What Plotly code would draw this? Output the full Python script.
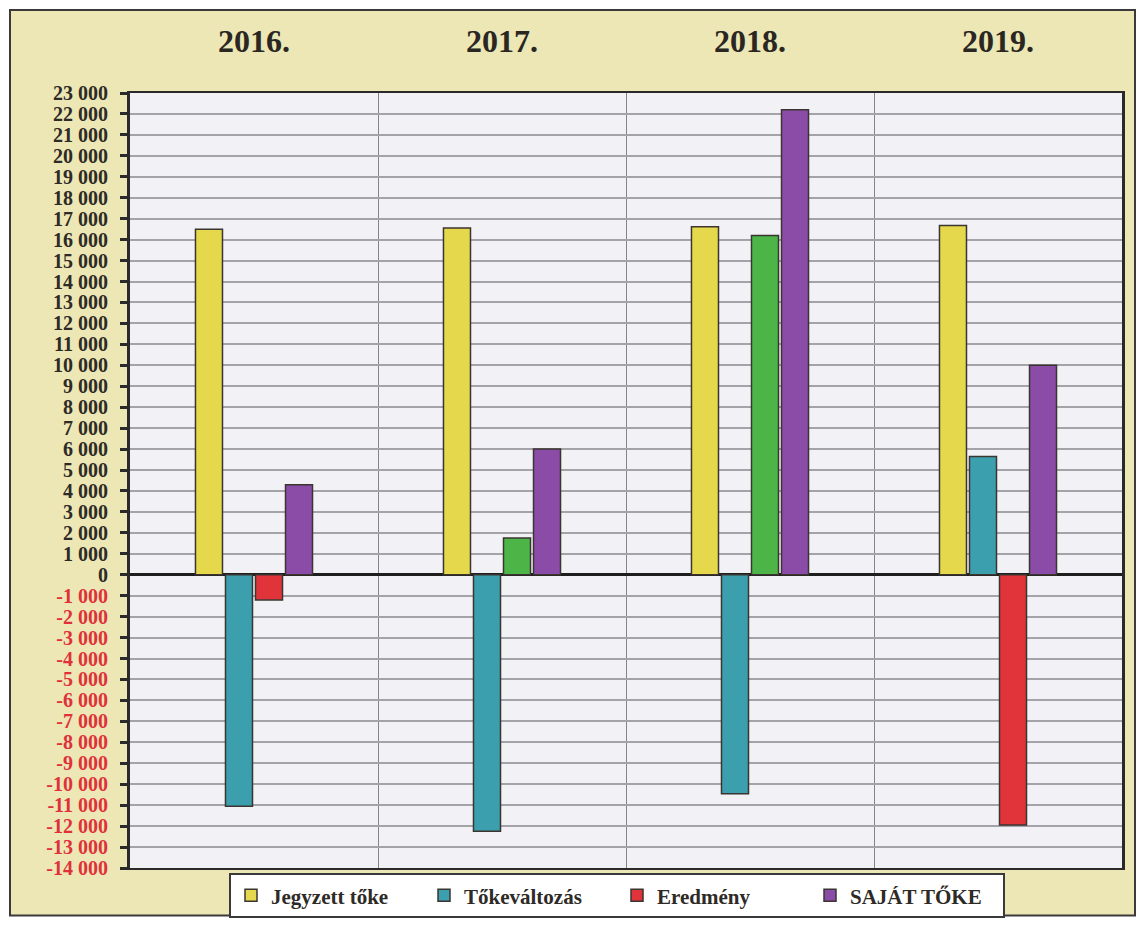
import plotly.graph_objects as go

years = ["2016.", "2017.", "2018.", "2019."]
jegyzett_toke = [16500, 16560, 16620, 16680]
tokevaltozas = [-11050, -12250, -10450, 5650]
eredmeny = [-1200, 1750, 16200, -11950]
sajat_toke = [4300, 6000, 22200, 10000]

y_tick_values = list(range(-14000, 23001, 1000))


def fmt(v):
    s = f"{abs(v):,}".replace(",", " ")
    return ("-" + s) if v < 0 else s


y_tick_text = [
    (f"<span style='color:#e0313b'>{fmt(v)}</span>" if v < 0 else fmt(v))
    for v in y_tick_values
]

FONT = "Liberation Serif"
W, H = 1140, 930
L, R, T, B = 130, 18, 93, 53
pw, ph = W - L - R, H - T - B


def px_x(p):  # page pixel -> paper x
    return (p - L) / pw


def px_y(p):  # page pixel -> paper y
    return (H - B - p) / ph


line_col = "#3a3530"
fig = go.Figure()

fig.add_bar(name="Jegyzett tőke", x=years, y=jegyzett_toke,
            marker=dict(color="#e6d84c", line=dict(color=line_col, width=1.5)))
fig.add_bar(name="Tőkeváltozás", x=years, y=tokevaltozas,
            marker=dict(color="#3c9fae", line=dict(color=line_col, width=1.5)))
fig.add_bar(name="Eredmény", x=years, y=eredmeny,
            marker=dict(color=["#e0333a" if v < 0 else "#4db448" for v in eredmeny],
                        line=dict(color=line_col, width=1.5)))
fig.add_bar(name="SAJÁT TŐKE", x=years, y=sajat_toke,
            marker=dict(color="#8a4ca6", line=dict(color=line_col, width=1.5)))

fig.update_layout(
    width=W, height=H,
    margin=dict(l=L, r=R, t=T, b=B),
    paper_bgcolor="white",
    plot_bgcolor="rgba(0,0,0,0)",
    barmode="group",
    bargap=0.516,
    bargroupgap=0.1,
    font=dict(family=FONT, color="#2e2a26"),
    showlegend=True,
    legend=dict(
        orientation="h",
        x=px_x(617), xanchor="center",
        y=px_y(905), yanchor="middle",
        bgcolor="white",
        bordercolor="#3a3a3a",
        borderwidth=2,
        entrywidth=148,
        font=dict(family=FONT, size=21, color="#2e2a26", weight="bold"),
        traceorder="normal",
        itemclick=False,
    ),
    shapes=[
        dict(type="rect", xref="paper", yref="paper",
             x0=px_x(10), x1=px_x(1135), y0=px_y(925), y1=px_y(9),
             fillcolor="#ece7b4", line=dict(color="#3a3a3a", width=2), layer="below"),
        dict(type="rect", xref="paper", yref="paper",
             x0=0, x1=1, y0=0, y1=1,
             fillcolor="#f1f1f6", line=dict(width=0), layer="below"),
    ],
)

fig.update_xaxes(
    type="category",
    side="top",
    tickson="boundaries",
    showgrid=True, gridcolor="#858585", gridwidth=1,
    ticks="",
    ticklabelstandoff=26,
    tickfont=dict(family=FONT, size=32, color="#2a2622", weight="bold"),
    showline=True, linecolor="#2a2a2a", linewidth=2, mirror=True,
    range=[-0.5, 3.5],
)

fig.update_yaxes(
    range=[-14000, 23000],
    tickvals=y_tick_values,
    ticktext=y_tick_text,
    ticks="outside", ticklen=7, tickwidth=3, tickcolor="#2a2a2a",
    ticklabelstandoff=8,
    tickfont=dict(family=FONT, size=20, color="#2e2a26", weight="bold"),
    showgrid=True, gridcolor="#a4a3aa", gridwidth=1.5,
    zeroline=True, zerolinecolor="#1e1e1e", zerolinewidth=3,
    showline=True, linecolor="#2a2a2a", linewidth=3, mirror=True,
)

fig.write_html(
    "out.html",
    config={"displayModeBar": False},
    post_script="document.body.style.margin='0';document.body.style.overflow='hidden';",
)
